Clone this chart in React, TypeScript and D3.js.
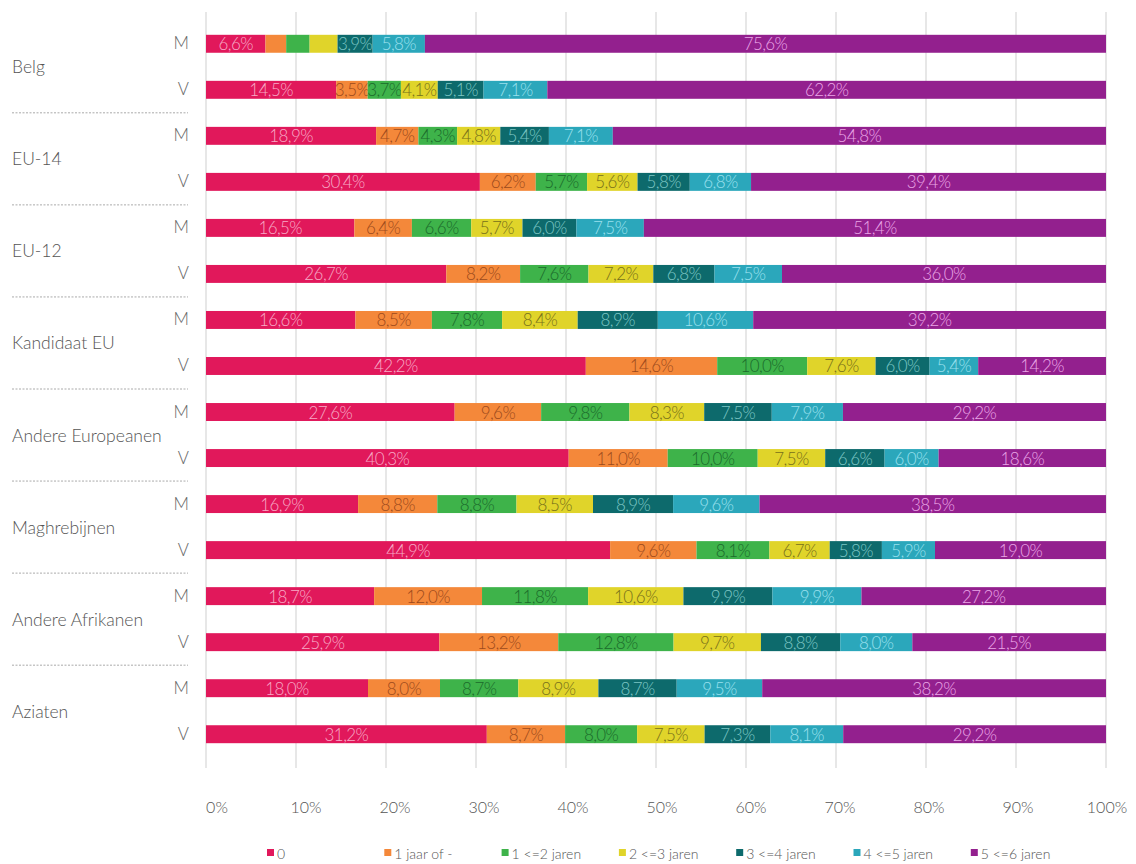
import React from "react";
import * as d3 from "d3";

const groups = ["Belg", "EU-14", "EU-12", "Kandidaat EU", "Andere Europeanen", "Maghrebijnen", "Andere Afrikanen", "Aziaten"];
const sexes = ["M", "V"];
const seriesNames = ["0", "1 jaar of -", "1 <=2 jaren", "2 <=3 jaren", "3 <=4 jaren", "4 <=5 jaren", "5 <=6 jaren"];
const seriesColors = ["#e1185b", "#f4883a", "#3eb34a", "#e0d42a", "#0d6a6c", "#2ba7bb", "#93208e"];
const labelColors = ["#f7aac6", "#9c4a1c", "#1b6a2a", "#77701a", "#7cc6c4", "#9ae0ee", "#eaa6e6"];
const xTicks = [0, 0.1, 0.2, 0.3, 0.4, 0.5, 0.6, 0.7, 0.8, 0.9, 1];

// rows: group × sex, values per series (in %)
const belgM = [6.6, 2.3, 2.6, 3.1, 3.9, 5.8, 75.6];
const belgV = [14.5, 3.5, 3.7, 4.1, 5.1, 7.1, 62.2];
const eu14M = [18.9, 4.7, 4.3, 4.8, 5.4, 7.1, 54.8];
const eu14V = [30.4, 6.2, 5.7, 5.6, 5.8, 6.8, 39.4];
const eu12M = [16.5, 6.4, 6.6, 5.7, 6.0, 7.5, 51.4];
const eu12V = [26.7, 8.2, 7.6, 7.2, 6.8, 7.5, 36.0];
const kandM = [16.6, 8.5, 7.8, 8.4, 8.9, 10.6, 39.2];
const kandV = [42.2, 14.6, 10.0, 7.6, 6.0, 5.4, 14.2];
const andEurM = [27.6, 9.6, 9.8, 8.3, 7.5, 7.9, 29.2];
const andEurV = [40.3, 11.0, 10.0, 7.5, 6.6, 6.0, 18.6];
const maghM = [16.9, 8.8, 8.8, 8.5, 8.9, 9.6, 38.5];
const maghV = [44.9, 9.6, 8.1, 6.7, 5.8, 5.9, 19.0];
const andAfrM = [18.7, 12.0, 11.8, 10.6, 9.9, 9.9, 27.2];
const andAfrV = [25.9, 13.2, 12.8, 9.7, 8.8, 8.0, 21.5];
const aziM = [18.0, 8.0, 8.7, 8.9, 8.7, 9.5, 38.2];
const aziV = [31.2, 8.7, 8.0, 7.5, 7.3, 8.1, 29.2];

const rowValues = [belgM, belgV, eu14M, eu14V, eu12M, eu12V, kandM, kandV, andEurM, andEurV, maghM, maghV, andAfrM, andAfrV, aziM, aziV];

const FONT = "Lato, 'Open Sans', sans-serif";

export default function App() {
  const W = 1136, H = 864;
  const rows = rowValues.map((vals, i) => {
    const o: any = { key: i, group: groups[Math.floor(i / 2)], sex: sexes[i % 2] };
    seriesNames.forEach((s, j) => (o[s] = vals[j]));
    return o;
  });

  const stacked = d3.stack<any>().keys(seriesNames).offset(d3.stackOffsetExpand)(rows);

  const x = d3.scaleLinear().domain([0, 1]).range([206, 1106]);
  const xLabel = d3.scaleLinear().domain([0, 1]).range([217, 1107]);
  const y = d3.scaleBand<number>().domain(rows.map((r) => r.key)).range([21, 757]).paddingInner(0.61).paddingOuter(0.3);
  const bh = y.bandwidth();
  const fmt = (v: number) => d3.format(".1f")(v).replace(".", ",") + "%";

  return (
    <svg width={W} height={H} style={{ position: "absolute", left: 0, top: 0, background: "#fff" }} fontFamily={FONT}>
      {/* gridlines */}
      {xTicks.map((t) => (
        <line key={t} x1={x(t)} x2={x(t)} y1={12} y2={768} stroke="#cfcfcf" strokeWidth={1} />
      ))}
      {/* bars */}
      {stacked.map((layer, si) => (
        <g key={layer.key}>
          {layer.map((d, ri) => {
            const r = rows[ri];
            const x0 = x(d[0]);
            const x1 = x(d[1]);
            const yy = y(r.key)!;
            const v = r[layer.key];
            return (
              <g key={ri}>
                <rect x={x0} y={yy} width={Math.max(0, x1 - x0)} height={bh} fill={seriesColors[si]} />
                {v >= 3.5 && (
                  <text x={(x0 + x1) / 2} y={yy + bh / 2} textAnchor="middle" dominantBaseline="central" fontSize={17} fontWeight={300} fill={labelColors[si]} letterSpacing={-0.6}>
                    {fmt(v)}
                  </text>
                )}
              </g>
            );
          })}
        </g>
      ))}
      {/* M / V labels */}
      {rows.map((r) => (
        <text key={"s" + r.key} x={189} y={y(r.key)! + bh / 2 - 1} textAnchor="end" dominantBaseline="central" fontSize={17} fontWeight={300} fill="#666">
          {r.sex}
        </text>
      ))}
      {/* group labels */}
      {groups.map((g, gi) => {
        const ym = (y(gi * 2)! + y(gi * 2 + 1)! + bh) / 2;
        return (
          <text key={g} x={12} y={ym} dominantBaseline="central" fontSize={17.5} fontWeight={300} fill="#555">
            {g}
          </text>
        );
      })}
      {/* separators */}
      {groups.slice(1).map((g, gi) => {
        const ys = (y(gi * 2 + 1)! + bh + y(gi * 2 + 2)!) / 2;
        return <line key={"sep" + g} x1={12} x2={188} y1={ys} y2={ys} stroke="#aaa" strokeDasharray="2,1.5" strokeWidth={1} />;
      })}
      {/* x tick labels */}
      {xTicks.map((t) => (
        <text key={"t" + t} x={xLabel(t)} y={806} textAnchor="middle" dominantBaseline="central" fontSize={16} fontWeight={300} fill="#555">
          {d3.format(".0%")(t)}
        </text>
      ))}
      {/* legend */}
      {seriesNames.map((s, i) => {
        const lx = 267 + i * 117.3;
        return (
          <g key={"l" + s}>
            <rect x={lx} y={849} width={7} height={7} fill={seriesColors[i]} />
            <text x={lx + 10} y={853} dominantBaseline="central" fontSize={14} fontWeight={300} fill="#555">
              {s}
            </text>
          </g>
        );
      })}
    </svg>
  );
}
